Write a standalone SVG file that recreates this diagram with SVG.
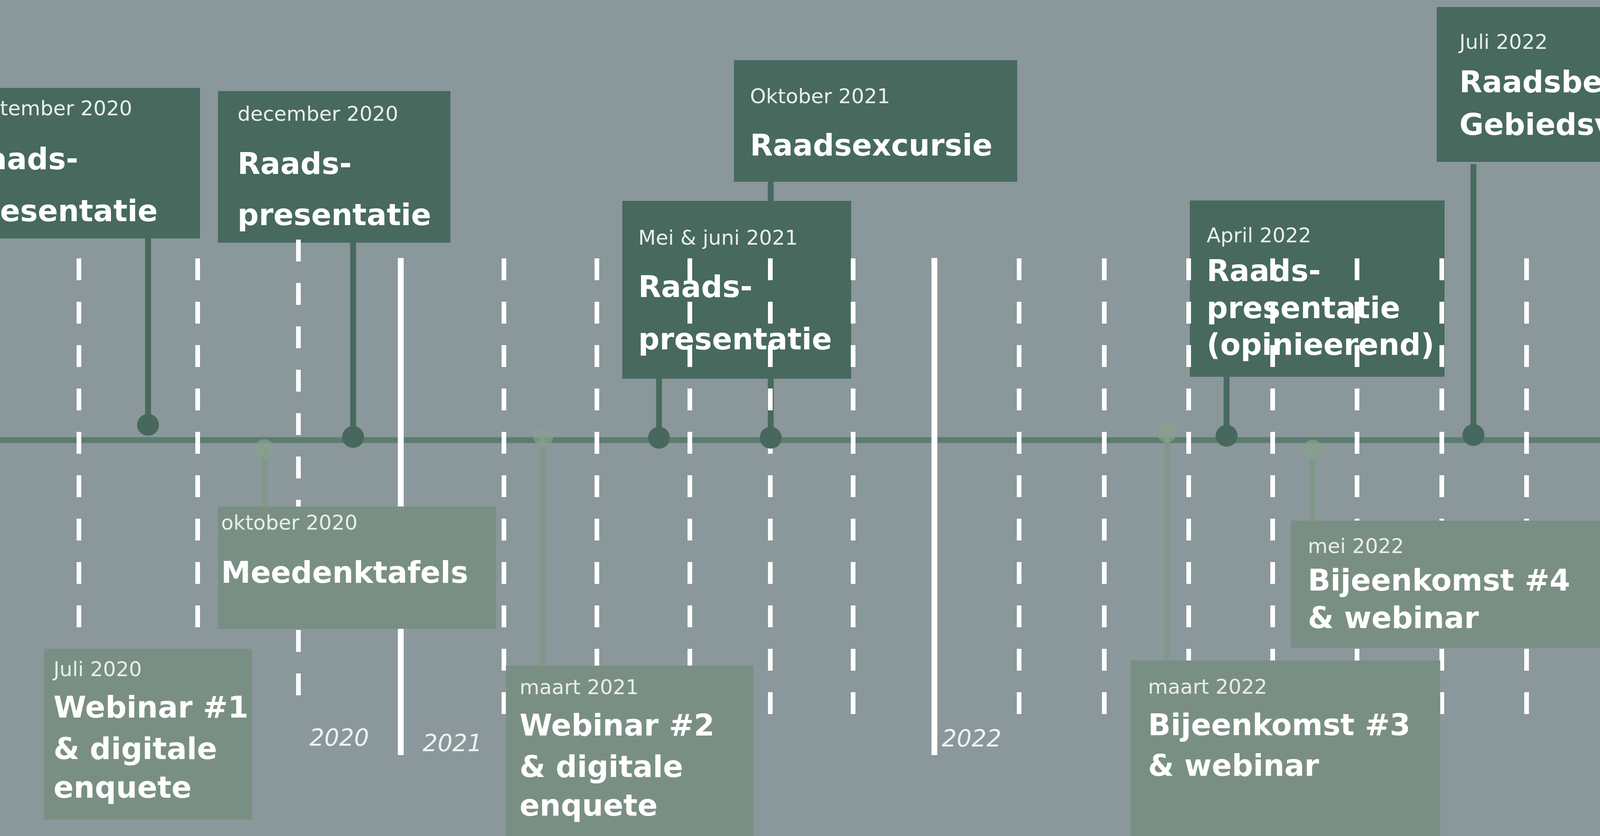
<svg xmlns="http://www.w3.org/2000/svg" width="5120" height="2139" viewBox="0 0 5120 2139">
<style>
.bg{fill:#8a979b}
.tl{stroke:#5d7c70;stroke-width:15}
.dark{fill:#47695e}
.pale{fill:#7a8f83}
.green{fill:#5c9d6b}
.date{font-family:"DejaVu Sans",sans-serif;font-size:52px;fill:#e8eee9}
.title{font-family:"DejaVu Sans",sans-serif;font-weight:bold;font-size:76px;fill:#ffffff}
.title70{font-size:70px}
.year{font-family:"DejaVu Sans",sans-serif;font-style:italic;font-size:60px;fill:#eef2f2}
.dash{stroke:#ffffff;stroke-width:12;stroke-dasharray:56 55}
.solid{stroke:#ffffff;stroke-width:15}
.stem{stroke:#47695e;stroke-width:15}
.pstem{stroke:#7f9987;stroke-width:13;opacity:0.85}
.dot{fill:#47685d}
.pdot{fill:#86a18d;opacity:0.7}
</style>
<rect class="bg" x="0" y="0" width="5120" height="2139"/>
<line class="tl" x1="0" y1="1126" x2="5120" y2="1126"/>

<g id="year-labels">
<text class="year" x="792" y="1908">2020</text>
<text class="year" x="1082" y="1922">2021</text>
<text class="year" x="2411" y="1910">2022</text>
<text class="year" x="4951" y="1908">2023</text>
</g>

<g id="connectors">
<line class="stem" x1="379" y1="605" x2="379" y2="1087"/>
<line class="stem" x1="904" y1="615" x2="904" y2="1118"/>
<line class="stem" x1="1687" y1="960" x2="1687" y2="1120"/>
<line class="stem" x1="1973" y1="460" x2="1973" y2="1120"/>
<line class="stem" x1="3140" y1="960" x2="3140" y2="1115"/>
<line class="stem" x1="3772" y1="420" x2="3772" y2="1113"/>
</g>

<g id="n-sep2020">
<rect class="dark" x="-142" y="225" width="654" height="385"/>
<text class="date" x="-92" y="295">september 2020</text>
<text class="title" x="-92" y="433">Raads-</text>
<text class="title" x="-92" y="566">presentatie</text>
</g>
<g id="n-dec2020">
<rect class="dark" x="558" y="233" width="595" height="388"/>
<text class="date" x="608" y="309">december 2020</text>
<text class="title" x="608" y="445">Raads-</text>
<text class="title" x="608" y="576">presentatie</text>
</g>
<g id="n-mei2021">
<rect class="dark" x="1593" y="514" width="586" height="455"/>
<text class="date" x="1634" y="626">Mei &amp; juni 2021</text>
<text class="title" x="1634" y="760">Raads-</text>
<text class="title" x="1634" y="894">presentatie</text>
</g>
<g id="n-okt2021">
<rect class="dark" x="1879" y="154" width="725" height="311"/>
<text class="date" x="1920" y="264">Oktober 2021</text>
<text class="title" x="1920" y="398">Raadsexcursie</text>
</g>
<g id="n-apr2022">
<rect class="dark" x="3046" y="513" width="652" height="451"/>
<text class="date" x="3089" y="620">April 2022</text>
<text class="title" x="3089" y="719">Raads-</text>
<text class="title" x="3089" y="814">presentatie</text>
<text class="title" x="3089" y="908">(opinieerend)</text>
</g>
<g id="n-jul2022">
<rect class="dark" x="3678" y="18" width="1018" height="396"/>
<text class="date" x="3736" y="125">Juli 2022</text>
<text class="title" x="3736" y="236">Raadsbesluitvorming</text>
<text class="title" x="3736" y="345">Gebiedsvisie</text>
</g>

<g id="grid">
<line class="dash" x1="202" y1="661" x2="202" y2="1827"/>
<line class="dash" x1="506" y1="661" x2="506" y2="1827"/>
<line class="dash" x1="764" y1="613" x2="764" y2="1781"/>
<line class="solid" x1="1026" y1="660" x2="1026" y2="1932"/>
<line class="dash" x1="1290" y1="661" x2="1290" y2="1827"/>
<line class="dash" x1="1528" y1="661" x2="1528" y2="1827"/>
<line class="dash" x1="1766" y1="661" x2="1766" y2="1827"/>
<line class="dash" x1="1972" y1="661" x2="1972" y2="1827"/>
<line class="dash" x1="2184" y1="661" x2="2184" y2="1827"/>
<line class="solid" x1="2392" y1="660" x2="2392" y2="1932"/>
<line class="dash" x1="2609" y1="661" x2="2609" y2="1827"/>
<line class="dash" x1="2827" y1="661" x2="2827" y2="1827"/>
<line class="dash" x1="3043" y1="661" x2="3043" y2="1827"/>
<line class="dash" x1="3258" y1="661" x2="3258" y2="1827"/>
<line class="dash" x1="3474" y1="661" x2="3474" y2="1827"/>
<line class="dash" x1="3691" y1="661" x2="3691" y2="1827"/>
<line class="dash" x1="3908" y1="661" x2="3908" y2="1827"/>
<line class="dash" x1="4126" y1="661" x2="4126" y2="1827"/>
<line class="dash" x1="4341" y1="661" x2="4341" y2="1827"/>
<line class="dash" x1="4558" y1="661" x2="4558" y2="1827"/>
<line class="dash" x1="4775" y1="661" x2="4775" y2="1827"/>
<line class="solid" x1="4991" y1="660" x2="4991" y2="1932"/>
</g>

<g id="pale-connectors">
<line class="pstem" x1="678" y1="1150" x2="678" y2="1296"/>
<line class="pstem" x1="1390" y1="1120" x2="1390" y2="1703"/>
<line class="pstem" x1="2988" y1="1108" x2="2988" y2="1690"/>
<line class="pstem" x1="3360" y1="1152" x2="3360" y2="1332"/>
</g>

<g id="dots">
<circle class="dot" cx="379" cy="1087" r="28"/>
<circle class="dot" cx="904" cy="1118" r="28"/>
<circle class="dot" cx="1687" cy="1120" r="28"/>
<circle class="dot" cx="1973" cy="1120" r="28"/>
<circle class="dot" cx="3140" cy="1115" r="28"/>
<circle class="dot" cx="3772" cy="1113" r="28"/>
<circle class="pdot" cx="677" cy="1149" r="25"/>
<circle class="pdot" cx="1391" cy="1118" r="25"/>
<circle class="pdot" cx="2987" cy="1107" r="25"/>
<circle class="pdot" cx="3360" cy="1150" r="25"/>
</g>

<g id="n-okt2020">
<rect class="pale" x="558" y="1296" width="712" height="313"/>
<text class="date" x="566" y="1355">oktober 2020</text>
<text class="title" x="566" y="1491">Meedenktafels</text>
</g>
<g id="n-jul2020">
<rect class="pale" x="113" y="1660" width="532" height="437"/>
<text class="date" x="137" y="1730">Juli 2020</text>
<text class="title" x="137" y="1836">Webinar #1</text>
<text class="title" x="137" y="1942">&amp; digitale</text>
<text class="title" x="137" y="2041">enquete</text>
</g>
<g id="n-mrt2021">
<rect class="pale" x="1295" y="1703" width="634" height="440"/>
<text class="date" x="1330" y="1776">maart 2021</text>
<text class="title" x="1330" y="1882">Webinar #2</text>
<text class="title" x="1330" y="1988">&amp; digitale</text>
<text class="title" x="1330" y="2087">enquete</text>
</g>
<g id="n-mrt2022">
<rect class="pale" x="2895" y="1690" width="792" height="453"/>
<text class="date" x="2939" y="1775">maart 2022</text>
<text class="title" x="2939" y="1881">Bijeenkomst #3</text>
<text class="title" x="2939" y="1985">&amp; webinar</text>
</g>
<g id="n-mei2022">
<rect class="pale" x="3305" y="1332" width="791" height="325"/>
<text class="date" x="3348" y="1415">mei 2022</text>
<text class="title" x="3348" y="1511">Bijeenkomst #4</text>
<text class="title" x="3348" y="1607">&amp; webinar</text>
</g>
<g id="n-najaar2022">
<rect class="green" x="4215" y="1112" width="807" height="432"/>
<text class="date" x="4271" y="1219">Najaar 2022</text>
<text class="title title70" x="4271" y="1305">Ontwerp</text>
<text class="title title70" x="4271" y="1394">Bestemmingsplan</text>
<text class="title title70" x="4271" y="1478">Ter inzage</text>
</g>
</svg>
